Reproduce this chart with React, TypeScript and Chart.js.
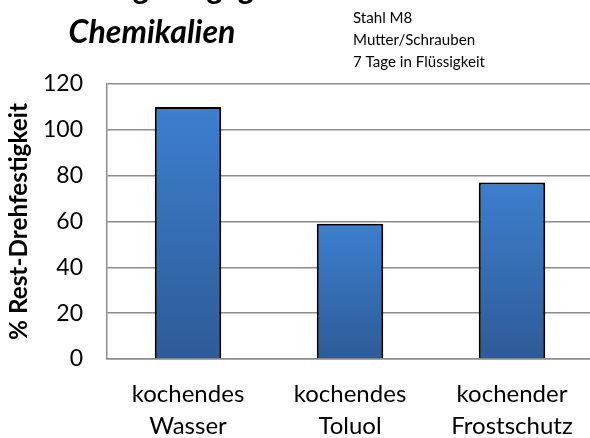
import React, { useEffect, useRef } from "react";
import { Chart, registerables } from "chart.js";

Chart.register(...registerables);

const categories: string[][] = [
  ["kochendes", "Wasser"],
  ["kochendes", "Toluol"],
  ["kochender", "Frostschutz"],
];
const values: number[] = [110, 59, 77];
const titleLines: string[] = ["Beständigkeit gegen", "Chemikalien"];
const noteLines: string[] = ["Stahl M8", "Mutter/Schrauben", "7 Tage in Flüssigkeit"];
const yAxisTitle = "% Rest-Drehfestigkeit";
const yMin = 0;
const yMax = 120;
const yStep = 20;

const FONT = "Lato, 'Open Sans', sans-serif";

function fitFont(ctx: any, style: string, text: string, width: number) {
  ctx.font = `${style} 100px ${FONT}`;
  const w = ctx.measureText(text).width;
  const size = (100 * width) / w;
  ctx.font = `${style} ${size}px ${FONT}`;
  return size;
}

const textPlugin = {
  id: "texts",
  afterDraw(chart: any) {
    const ctx = chart.ctx;
    const area = chart.chartArea;
    ctx.save();
    ctx.fillStyle = "#000";
    // title
    fitFont(ctx, "italic bold", titleLines[1], 167);
    ctx.textAlign = "center";
    ctx.textBaseline = "alphabetic";
    ctx.fillText(titleLines[0], 152, -1);
    ctx.fillText(titleLines[1], 152, 43);
    // note
    fitFont(ctx, "normal", noteLines[2], 132);
    ctx.textAlign = "left";
    noteLines.forEach((t, i) => ctx.fillText(t, 353, 23 + i * 22));
    // y axis title
    fitFont(ctx, "bold", yAxisTitle, 237);
    ctx.translate(19, (area.top + area.bottom) / 2);
    ctx.rotate(-Math.PI / 2);
    ctx.textAlign = "center";
    ctx.textBaseline = "middle";
    ctx.fillText(yAxisTitle, 0, 0);
    ctx.restore();
  },
};

const shadowPlugin = {
  id: "barShadow",
  beforeDatasetsDraw(chart: any) {
    const ctx = chart.ctx;
    ctx.save();
    ctx.shadowColor = "rgba(0,0,0,0.25)";
    ctx.shadowBlur = 5;
    ctx.shadowOffsetX = 1;
    ctx.shadowOffsetY = 1;
  },
  afterDatasetsDraw(chart: any) {
    chart.ctx.restore();
  },
};

export default function App() {
  const ref = useRef<HTMLCanvasElement>(null);
  useEffect(() => {
    if (!ref.current) return;
    const chart = new Chart(ref.current, {
      type: "bar",
      data: {
        labels: categories,
        datasets: [
          {
            data: values,
            backgroundColor: (c: any) => {
              const ch = c.chart;
              const area = ch.chartArea;
              if (!area || !ch.scales || !ch.scales.y) return "#3570b5";
              const top = ch.scales.y.getPixelForValue(c.raw ?? 0);
              const bottom = ch.scales.y.getPixelForValue(0);
              if (!isFinite(top) || !isFinite(bottom) || top === bottom) return "#3570b5";
              const g = ch.ctx.createLinearGradient(0, top, 0, bottom);
              g.addColorStop(0, "#3c7fcf");
              g.addColorStop(1, "#2e5b97");
              return g;
            },
            borderColor: "#000",
            borderWidth: 2,
            borderSkipped: "bottom",
            barPercentage: 0.41,
            categoryPercentage: 1,
          },
        ],
      },
      options: {
        responsive: false,
        animation: false,
        devicePixelRatio: 1,
        layout: { padding: { top: 84, right: 7, left: 0, bottom: 0 } },
        plugins: { legend: { display: false }, title: { display: false }, tooltip: { enabled: false } },
        scales: {
          x: {
            grid: { display: false, drawTicks: false },
            border: { color: "#8c8c8c", width: 1.5 },
            ticks: {
              color: "#000",
              padding: 20,
              font: { family: FONT, size: 24, lineHeight: 1.3 },
              maxRotation: 0,
              autoSkip: false,
            },
            afterFit: (s: any) => {
              s.height = 438 - 359;
            },
          },
          y: {
            min: yMin,
            max: yMax,
            grid: { color: "#8c8c8c", lineWidth: 1.5, drawTicks: false },
            border: { color: "#8c8c8c", width: 1.5 },
            ticks: {
              stepSize: yStep,
              color: "#000",
              padding: 24,
              font: { family: FONT, size: 23 },
            },
            afterFit: (s: any) => {
              s.width = 107;
            },
          },
        },
      },
      plugins: [shadowPlugin, textPlugin],
    });
    return () => chart.destroy();
  }, []);
  return (
    <div style={{ position: "absolute", left: 0, top: 0, width: 590, height: 438, overflow: "hidden", background: "#fff" }}>
      <canvas ref={ref} width={600} height={438} style={{ display: "block", width: 600, height: 438 }} />
    </div>
  );
}
